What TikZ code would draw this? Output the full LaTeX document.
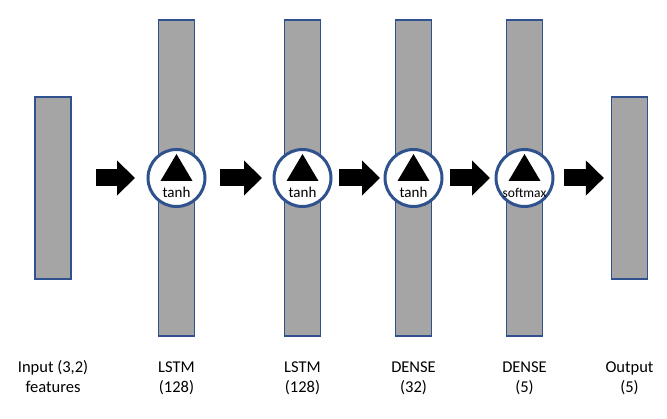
\documentclass[tikz,border=0pt]{standalone}
\usepackage{fontspec}
\setmainfont{Carlito}
\usetikzlibrary{arrows.meta}
\definecolor{barfill}{HTML}{A5A5A5}
\definecolor{barline}{HTML}{2F528F}

\begin{document}
\begin{tikzpicture}[x=1pt,y=1pt,
  layer/.style={draw=barline,fill=barfill,line width=1.2pt,minimum width=36pt,inner sep=0pt},
  act/.style={circle,draw=barline,fill=white,line width=3pt,minimum size=57pt,inner sep=0pt},
  flow/.style={line width=17pt,-{Triangle[length=18pt,width=34pt]}}]
\useasboundingbox (0,0) rectangle (667,418);
%\draw[help lines,step=20] (0,0) grid (667,418);

\foreach \n/\x/\y/\h in {in/53/230/182, l1/176.5/240/316, l2/302.5/240/316, d1/413.5/240/316, d2/524.5/240/316, out/629.5/230/182}
  \node[layer,minimum height=\h pt] (\n) at (\x,\y) {};

\foreach \n/\c/\t/\s in {l1/c1/tanh/15, l2/c2/tanh/15, d1/c3/tanh/15, d2/c4/softmax/13.5} {
  \node[act] (\c) at (\n.center) {};
  \fill ([yshift=24pt]\c.center) -- ([shift={(-16,-3)}]\c.center) -- ([shift={(16,-3)}]\c.center) -- cycle;
  \node[anchor=base,inner sep=0pt,font=\fontsize{\s}{\s}\selectfont] (\c-fn) at ([yshift=-20pt]\c.center) {\t};
}

\foreach \f/\t/\a/\b in {in/c1/24/11.5, c1/c2/13.5/10.5, c2/c3/6.5/3.5, c3/c4/6.5/4.5, c4/out/9.5/7}
  \draw[flow] ([xshift=\a pt]\f.east |- c1.center) -- ([xshift=-\b pt]\t.west |- c1.center);

\foreach \n/\t in {in/{Input (3,2)\\features}, l1/{LSTM\\(128)}, l2/{LSTM\\(128)}, d1/{DENSE\\(32)}, d2/{DENSE\\(5)}, out/{Output\\(5)}}
  \node[anchor=base,align=center,inner sep=0pt,font=\fontsize{16.5}{19.5}\selectfont] (\n-lab) at (\n.center |- 0,26) {\t};
\end{tikzpicture}
\end{document}
